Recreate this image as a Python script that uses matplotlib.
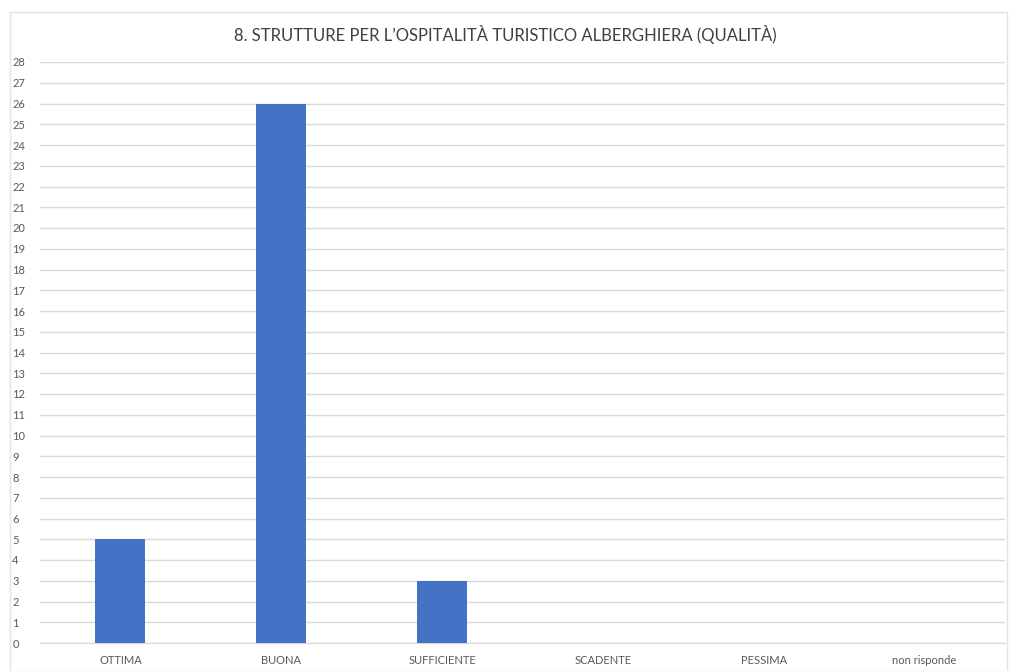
import matplotlib
matplotlib.use("Agg")
import matplotlib.pyplot as plt
from matplotlib.patches import Rectangle

categories = ["OTTIMA", "BUONA", "SUFFICIENTE", "SCADENTE", "PESSIMA", "non risponde"]
values = [5, 26, 3, 0, 0, 0]
yticks = list(range(0, 29))
title = "8. STRUTTURE PER L\u2019OSPITALIT\u00c0 TURISTICO ALBERGHIERA (QUALIT\u00c0)"

plt.rcParams['font.family'] = ['Lato', 'DejaVu Sans']

fig = plt.figure(figsize=(10.1, 6.71), dpi=100)
fig.patches.append(Rectangle((10/1010, 0.0), (1007-10)/1010, 1 - 12/671,
                             transform=fig.transFigure, fill=False,
                             edgecolor="#E3E3E3", linewidth=1))
ax = fig.add_axes([40/1010, 1 - 643/671, (1005-40)/1010, (643-62)/671])

x = list(range(len(categories)))
ax.bar(x, values, width=0.31, color="#4472C4", zorder=3)
ax.set_xlim(-0.5, len(categories) - 0.5)
ax.set_ylim(0, 28)
ax.set_yticks(yticks)
ax.set_xticks(x)
ax.set_xticklabels(categories)
ax.grid(axis="y", color="#D9D9D9", linewidth=1, zorder=0)
for s in ax.spines.values():
    s.set_visible(False)
ax.spines["bottom"].set_visible(True)
ax.spines["bottom"].set_color("#D9D9D9")
ax.tick_params(axis="both", length=0, colors="#595959", labelsize=8)
ax.tick_params(axis="x", pad=9)
for lbl in ax.get_yticklabels():
    lbl.set_horizontalalignment("left")
ax.yaxis.set_tick_params(pad=20)

fig.text(0.5, 1 - 35/671, title, ha="center", va="center", fontsize=12, color="#404040")

fig.savefig("out.png", dpi=100)
